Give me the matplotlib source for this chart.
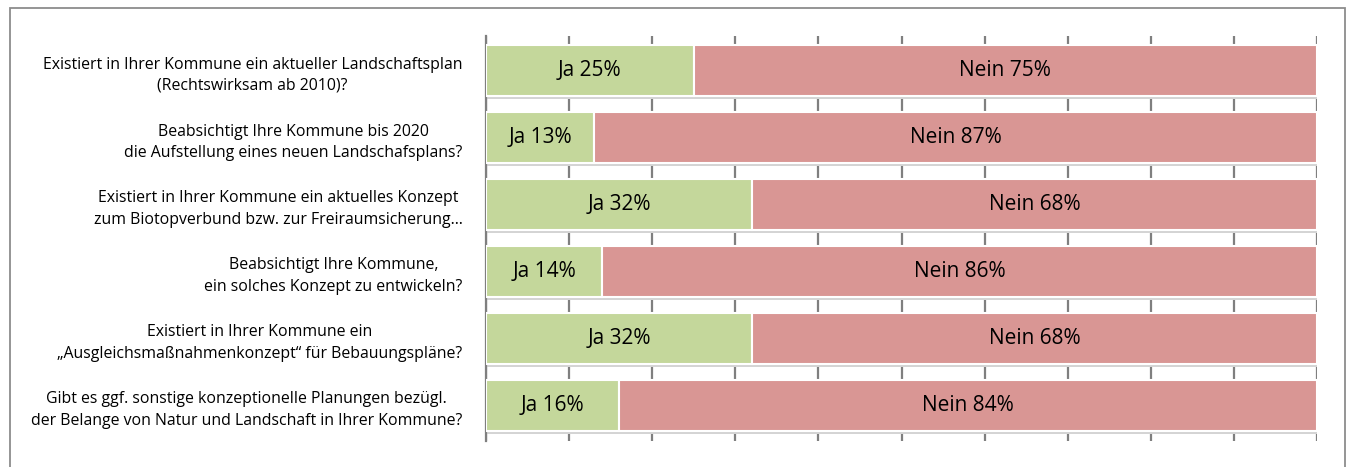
import matplotlib.pyplot as plt
from matplotlib.patches import Rectangle

# survey questions (top to bottom) and answer shares in percent
questions = [
    "Existiert in Ihrer Kommune ein aktueller Landschaftsplan\n(Rechtswirksam ab 2010)?",
    "Beabsichtigt Ihre Kommune bis 2020\ndie Aufstellung eines neuen Landschafsplans?",
    "Existiert in Ihrer Kommune ein aktuelles Konzept\nzum Biotopverbund bzw. zur Freiraumsicherung\u2026",
    "Beabsichtigt Ihre Kommune,\nein solches Konzept zu entwickeln?",
    "Existiert in Ihrer Kommune ein\n\u201eAusgleichsma\u00dfnahmenkonzept\u201c f\u00fcr Bebauungspl\u00e4ne?",
    "Gibt es ggf. sonstige konzeptionelle Planungen bez\u00fcgl.\nder Belange von Natur und Landschaft in Ihrer Kommune?",
]
ja = [25, 13, 32, 14, 32, 16]
nein = [75, 87, 68, 86, 68, 84]

GREEN = "#C4D79B"
RED = "#D99694"

plt.rcParams["font.family"] = ["Open Sans", "DejaVu Sans"]

fig = plt.figure(figsize=(13.51, 4.67), dpi=100)
ax = fig.add_axes([486 / 1351, 1 - 441 / 467, (1317 - 486) / 1351, (441 - 36) / 467])

# outer frame of the chart area
fig.patches.append(Rectangle((10 / 1351, -0.1), (1345 - 10) / 1351, 1.1 - 8 / 467,
                             transform=fig.transFigure, fill=False,
                             edgecolor="#8c8c8c", linewidth=1.3))

y = list(range(len(questions)))
h = 0.76

# soft shadow under the bars
ax.barh([v + 0.05 for v in y], [100] * len(y), height=h, color="#d4d4d4",
        edgecolor="none", zorder=2)
ax.barh(y, ja, height=h, color=GREEN, edgecolor="white", linewidth=1.5, zorder=3)
ax.barh(y, nein, left=ja, height=h, color=RED, edgecolor="white", linewidth=1.5, zorder=3)

for i in y:
    ax.text(ja[i] / 2, i, f"Ja {ja[i]}%", ha="center", va="center",
            fontsize=15, color="black", zorder=4)
    ax.text(ja[i] + nein[i] / 2, i, f"Nein {nein[i]}%", ha="center", va="center",
            fontsize=15, color="black", zorder=4)

ax.set_xlim(0, 100)
ax.set_ylim(len(y) - 0.47, -0.515)
ax.set_xticks(range(0, 101, 10))
ax.xaxis.grid(True, color="#7f7f7f", linewidth=1.6)
ax.set_axisbelow(True)
ax.tick_params(axis="x", length=0, labelbottom=False)

ax.set_yticks(y)
ax.set_yticklabels(questions, fontsize=11.4, multialignment="center", linespacing=1.45)
ax.tick_params(axis="y", length=0, pad=17)

for s in ["top", "right", "bottom"]:
    ax.spines[s].set_visible(False)
ax.spines["left"].set_color("#7f7f7f")
ax.spines["left"].set_linewidth(1.6)

fig.savefig("out.png", dpi=100)
